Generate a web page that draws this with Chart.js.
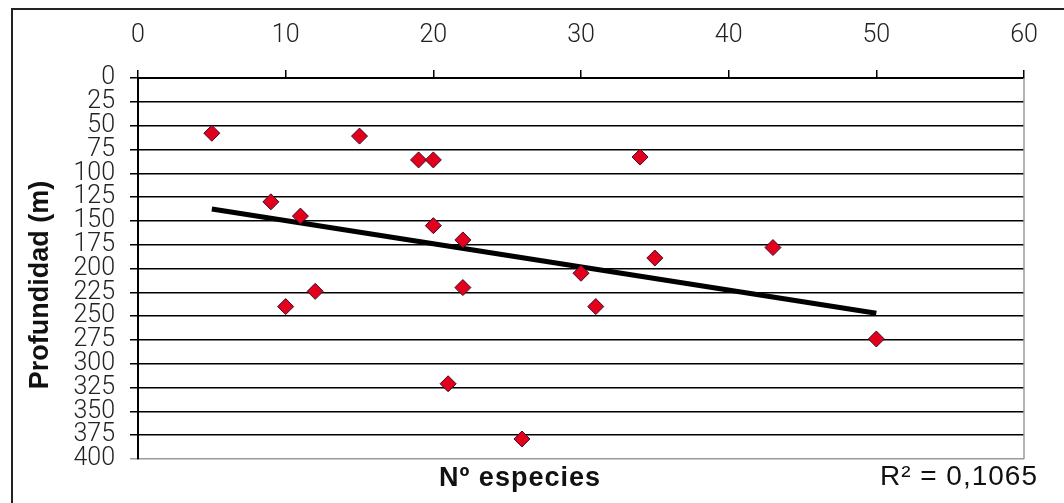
<!DOCTYPE html>
<html>
<head>
    <meta charset="UTF-8">
    <title>Profundidad vs Nº especies</title>
    <script src="https://cdn.jsdelivr.net/npm/chart.js"></script>
    <style>
        body {
            margin: 0;
            background-color: #ffffff;
        }
        #wrap {
            width: 1064px;
            height: 503px;
        }
    </style>
</head>
<body>
    <div id="wrap">
        <canvas id="myChart" width="1064" height="503"></canvas>
    </div>

    <script>
        // numero de especies (x) y profundidad en metros (y)
        const especies = [5, 15, 9, 11, 10, 12, 19, 20, 34, 20, 22, 35, 30, 22, 31, 21, 26, 43, 50];
        const profundidad = [58, 61, 130, 145, 240, 224, 86, 86, 83, 155, 170, 189, 205, 220, 240, 321, 379, 178, 274];

        // linea de tendencia (extremos)
        const tendenciaX = [5, 50];
        const tendenciaY = [137.5, 247];

        const ejeXTitulo = 'Nº especies';
        const ejeYTitulo = 'Profundidad (m)';
        const textoR2 = 'R² = 0,1065';

        const puntos = especies.map((x, i) => ({ x: x, y: profundidad[i] }));
        const tendencia = tendenciaX.map((x, i) => ({ x: x, y: tendenciaY[i] }));

        const fuenteTicks = { family: 'Roboto, "Liberation Sans", Arial, sans-serif', size: 25, weight: '300' };

        // textos de ejes, R2 y marco exterior
        const textos = {
            id: 'textos',
            afterDraw(chart) {
                const ctx = chart.ctx;
                const area = chart.chartArea;
                ctx.save();

                // borde derecho gris del area
                ctx.strokeStyle = '#9a9a9a';
                ctx.lineWidth = 1.5;
                ctx.beginPath();
                ctx.moveTo(area.right, area.top);
                ctx.lineTo(area.right, area.bottom);
                ctx.stroke();

                // marco exterior (solo izquierda y arriba visibles)
                ctx.strokeStyle = '#222';
                ctx.lineWidth = 2;
                ctx.beginPath();
                ctx.moveTo(12, 503);
                ctx.lineTo(12, 9);
                ctx.lineTo(1064, 9);
                ctx.stroke();

                ctx.fillStyle = '#111';
                ctx.textBaseline = 'alphabetic';

                ctx.font = 'bold 27px "Liberation Sans", Arial, sans-serif';
                ctx.letterSpacing = '1px';
                ctx.textAlign = 'left';
                ctx.fillText(ejeXTitulo, 439, 486);

                ctx.letterSpacing = '0px';
                ctx.save();
                ctx.translate(48, 285);
                ctx.rotate(-Math.PI / 2);
                ctx.textAlign = 'center';
                ctx.fillText(ejeYTitulo, 0, 0);
                ctx.restore();

                ctx.font = '28px "Liberation Sans", Arial, sans-serif';
                ctx.letterSpacing = '1px';
                ctx.textAlign = 'right';
                ctx.fillText(textoR2, 1038, 485);
                ctx.restore();
            }
        };

        const ctx = document.getElementById('myChart').getContext('2d');
        const chart = new Chart(ctx, {
            type: 'scatter',
            data: {
                datasets: [{
                    label: 'Profundidad',
                    data: puntos,
                    pointStyle: 'rectRot',
                    pointRadius: 8,
                    pointHoverRadius: 8,
                    backgroundColor: '#e2001a',
                    borderColor: '#3c0a30',
                    borderWidth: 1,
                    order: 1
                }, {
                    label: 'Tendencia',
                    data: tendencia,
                    showLine: true,
                    pointRadius: 0,
                    borderColor: '#000000',
                    borderWidth: 5,
                    order: 2
                }]
            },
            options: {
                responsive: false,
                animation: false,
                layout: {
                    padding: { left: 0, top: 0, right: 40, bottom: 44 }
                },
                plugins: {
                    legend: { display: false },
                    tooltip: { enabled: false }
                },
                scales: {
                    x: {
                        type: 'linear',
                        position: 'top',
                        min: 0,
                        max: 60,
                        ticks: {
                            stepSize: 10,
                            padding: 19,
                            color: '#222',
                            font: fuenteTicks
                        },
                        grid: {
                            drawOnChartArea: false,
                            drawTicks: true,
                            tickLength: 8,
                            color: '#000',
                            lineWidth: 1.5
                        },
                        border: { display: true, color: '#000', width: 2 },
                        afterFit(scale) { scale.height = 78; }
                    },
                    y: {
                        type: 'linear',
                        reverse: true,
                        min: 0,
                        max: 400,
                        ticks: {
                            stepSize: 25,
                            padding: 15,
                            color: '#222',
                            font: fuenteTicks,
                            autoSkip: false
                        },
                        grid: {
                            color: c => (c.tick && c.tick.value === 400) ? '#9a9a9a' : '#000',
                            lineWidth: 1.5,
                            tickLength: 8
                        },
                        border: { display: true, color: '#000', width: 2 },
                        afterFit(scale) { scale.width = 138; }
                    }
                }
            },
            plugins: [textos]
        });
    </script>
</body>
</html>
